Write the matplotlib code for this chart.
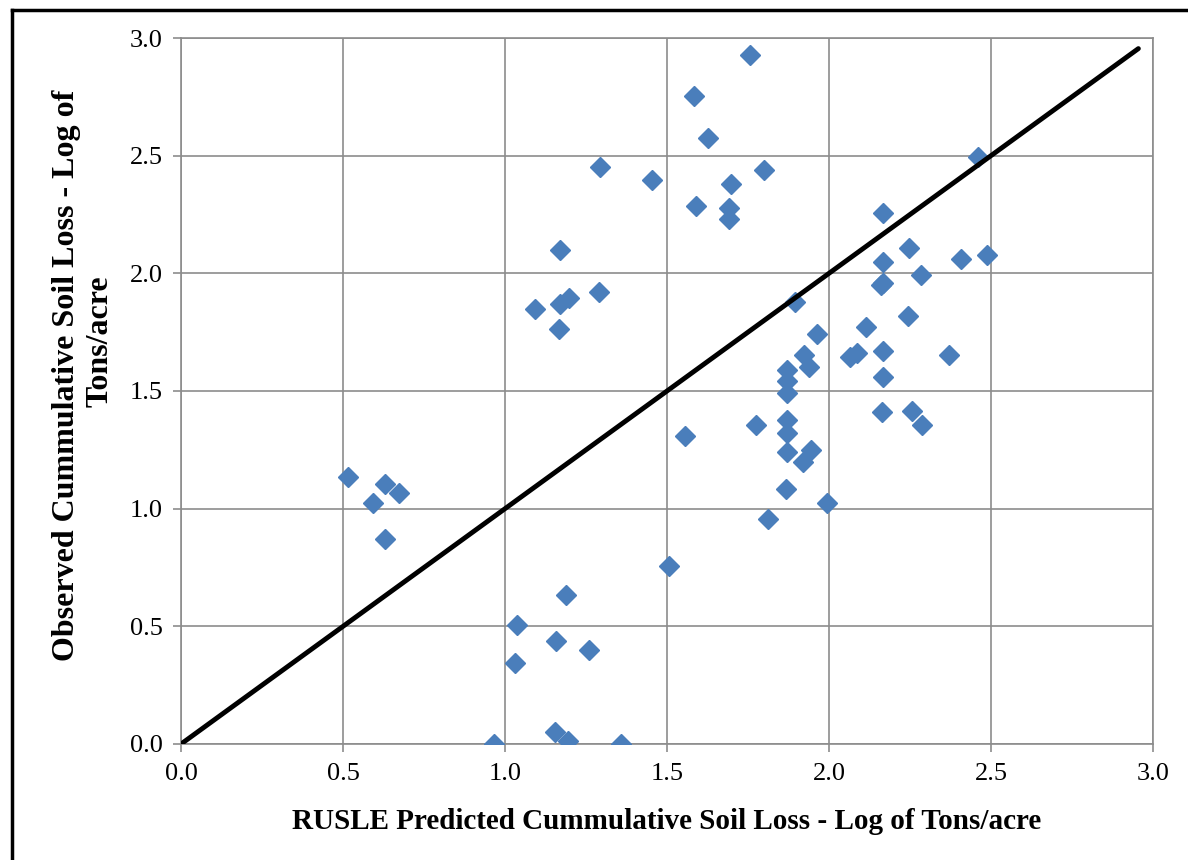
import numpy as np
import matplotlib
matplotlib.use('Agg')
import matplotlib.pyplot as plt
from matplotlib.lines import Line2D

plt.rcParams['font.family'] = ['Liberation Serif', 'DejaVu Serif']

# predicted (x) vs observed (y), log of tons/acre
predicted = [0.514, 0.594, 0.631, 0.673, 0.630,
             0.966, 1.038, 1.030, 1.156, 1.155, 1.193, 1.187, 1.259, 1.359, 1.505,
             1.094, 1.170, 1.170, 1.168, 1.196, 1.291,
             1.294, 1.455, 1.583, 1.626, 1.591, 1.698, 1.690, 1.690, 1.755, 1.798,
             1.556, 1.774, 1.813,
             1.869, 1.869, 1.869, 1.869, 1.869, 1.869, 1.866,
             1.896, 1.924, 1.938, 1.921, 1.946, 1.964, 1.993,
             2.065, 2.087, 2.113,
             2.167, 2.166, 2.166, 2.160, 2.168, 2.168, 2.165,
             2.247, 2.245, 2.283, 2.257, 2.287, 2.371, 2.406, 2.459, 2.488]
observed = [1.136, 1.026, 1.104, 1.068, 0.870,
            0.000, 0.504, 0.343, 0.439, 0.052, 0.014, 0.635, 0.400, 0.000, 0.758,
            1.847, 2.100, 1.870, 1.764, 1.894, 1.920,
            2.453, 2.397, 2.753, 2.574, 2.288, 2.381, 2.279, 2.233, 2.928, 2.438,
            1.309, 1.354, 0.955,
            1.589, 1.542, 1.490, 1.377, 1.323, 1.242, 1.082,
            1.877, 1.655, 1.600, 1.197, 1.249, 1.744, 1.023,
            1.646, 1.663, 1.772,
            2.258, 2.050, 1.960, 1.950, 1.672, 1.561, 1.411,
            2.109, 1.820, 1.992, 1.417, 1.356, 1.653, 2.062, 2.496, 2.077]

# 1:1 line
line_x = [0.0, 2.955]
line_y = [0.0, 2.955]

ticks = [0.0, 0.5, 1.0, 1.5, 2.0, 2.5, 3.0]

W, H = 1188, 860
fig = plt.figure(figsize=(W / 100, H / 100), dpi=100)
ax = fig.add_axes([0.1524, 0.1349, 0.8181, 0.8209])

ax.plot(predicted, observed, linestyle='none', marker='D', ms=10.5,
        color='#4a7ebb', zorder=3)
ax.plot(line_x, line_y, color='black', linewidth=3.5, solid_capstyle='round', zorder=4)

ax.set_xlim(0, 3)
ax.set_ylim(0, 3)
ax.set_xticks(ticks)
ax.set_yticks(ticks)
ax.set_xticklabels([f'{t:.1f}' for t in ticks], fontsize=19)
ax.set_yticklabels([f'{t:.1f}' for t in ticks], fontsize=19)
ax.tick_params(axis='both', direction='out', length=6, width=1.2, color='#8c8c8c')
ax.tick_params(axis='x', pad=8)
ax.tick_params(axis='y', pad=7)
ax.grid(True, color='#8c8c8c', linewidth=1.2)
ax.set_axisbelow(True)
for s in ax.spines.values():
    s.set_color('#8c8c8c')
    s.set_linewidth(1.2)

ax.set_xlabel('RUSLE Predicted Cummulative Soil Loss - Log of Tons/acre',
              fontsize=21, fontweight='bold', labelpad=16)

# y label, wrapped over two lines as in the source
fig.text(67 / W, 1 - 375 / H, 'Observed Cummulative Soil Loss - Log of',
         rotation=90, ha='center', va='center', fontsize=23, fontweight='bold')
fig.text(100 / W, 1 - 341 / H, 'Tons/acre',
         rotation=90, ha='center', va='center', fontsize=23, fontweight='bold')

# frame lines at the top and left of the figure
fig.add_artist(Line2D([12 / W, 1.0], [1 - 10 / H, 1 - 10 / H],
                      color='black', linewidth=2.5))
fig.add_artist(Line2D([12 / W, 12 / W], [0.0, 1 - 10 / H],
                      color='black', linewidth=2.5))

fig.savefig('out.png', dpi=100)
